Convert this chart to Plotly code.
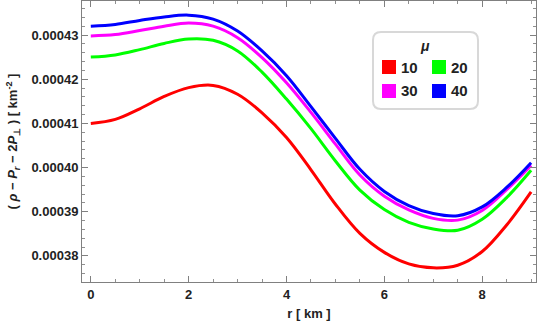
import plotly.graph_objects as go

r = [0, 0.5, 1.0, 1.5, 2.0, 2.5, 3.0, 3.5, 4.0, 4.5, 5.0, 5.5, 6.0, 6.5, 7.0, 7.5, 8.0, 8.5, 9.0]

mu_labels = ["10", "20", "30", "40"]
colors = ["#ff0000", "#00ff00", "#ff00ff", "#0000ff"]

# values in units of 1e-7 km^-2
mu10 = [4100, 4109, 4133, 4161, 4181, 4186, 4166, 4124, 4068, 3995,
        3917, 3851, 3808, 3782, 3773, 3779, 3810, 3870, 3945]
mu20 = [4250, 4255, 4267, 4281, 4291, 4288, 4264, 4216, 4155, 4088,
        4015, 3949, 3905, 3876, 3861, 3858, 3883, 3932, 3994]
mu30 = [4298, 4301, 4310, 4320, 4327, 4320, 4294, 4249, 4192, 4125,
        4053, 3983, 3935, 3904, 3885, 3881, 3903, 3950, 4005]
mu40 = [4320, 4324, 4333, 4341, 4345, 4336, 4309, 4264, 4208, 4138,
        4066, 3996, 3946, 3914, 3896, 3891, 3911, 3955, 4011]
series = [mu10, mu20, mu30, mu40]

FONT = "Liberation Sans, Arial, sans-serif"
TXT = "#222222"

# plot area in pixels: left 82, right 536, top 1, bottom 282
L, R, T, B = 82, 536, 1, 282
def px(x):
    return (x - L) / (R - L)
def py(y):
    return (B - y) / (B - T)

fig = go.Figure()

for ys, c, lab in zip(series, colors, mu_labels):
    fig.add_trace(go.Scatter(x=r, y=[v * 1e-7 for v in ys], mode="lines", name=lab,
                             line=dict(color=c, width=3, shape="spline", smoothing=1.0),
                             showlegend=False))

axis_common = dict(showgrid=False, zeroline=False, showline=True, linecolor="#808080", linewidth=1,
                   mirror="ticks", ticks="inside", ticklen=6, tickcolor="#808080",
                   tickfont=dict(family=FONT, size=13, color=TXT, weight="bold"),
                   minor=dict(ticks="inside", ticklen=3, tickcolor="#909090", showgrid=False))

fig.update_xaxes(range=[-0.18, 9.1], dtick=2, tick0=0, **axis_common)
fig.update_xaxes(minor_dtick=0.5,
                 title=dict(text="<b>r [ km ]</b>", font=dict(family=FONT, size=13, color=TXT), standoff=8))
fig.update_yaxes(range=[0.0003741, 0.0004377], dtick=0.00001, tick0=0.00038, tickformat=".5f", **axis_common)
fig.update_yaxes(minor_dtick=0.000002,
                 title=dict(text="<b>( <i>ρ</i> − <i>P<sub>r</sub></i> − 2<i>P</i><sub>⊥</sub> ) [ km<sup>-2</sup> ]</b>",
                            font=dict(family=FONT, size=13, color=TXT), standoff=10))

fig.update_layout(
    width=540, height=329,
    margin=dict(l=L, r=540 - R, t=T, b=329 - B),
    plot_bgcolor="white", paper_bgcolor="white",
    showlegend=False,
)

# legend box with rounded corners
x0, x1 = px(373), px(478)
y0, y1 = py(109), py(32)
rx, ry = 8 / (R - L), 8 / (B - T)
path = (f"M {x0+rx} {y1} L {x1-rx} {y1} Q {x1} {y1} {x1} {y1-ry} L {x1} {y0+ry} Q {x1} {y0} {x1-rx} {y0} "
        f"L {x0+rx} {y0} Q {x0} {y0} {x0} {y0+ry} L {x0} {y1-ry} Q {x0} {y1} {x0+rx} {y1} Z")
fig.add_shape(type="path", path=path, xref="paper", yref="paper",
              line=dict(color="#d8d8d8", width=2), fillcolor="white")

fig.add_annotation(x=px(425), y=py(46), xref="paper", yref="paper", text="<b><i>μ</i></b>",
                   showarrow=False, xanchor="center", yanchor="middle",
                   font=dict(family=FONT, size=14, color=TXT))

# legend entries: 2 columns x 2 rows
sw_x = [382, 432, 382, 432]
sw_y = [67, 67, 91, 91]
for lab, c, sx, sy in zip(mu_labels, colors, sw_x, sw_y):
    fig.add_shape(type="rect", xref="paper", yref="paper",
                  x0=px(sx), x1=px(sx + 14), y0=py(sy + 7), y1=py(sy - 7),
                  line=dict(width=0), fillcolor=c)
    fig.add_annotation(x=px(sx + 17), y=py(sy), xref="paper", yref="paper", text=f"<b>{lab}</b>",
                       showarrow=False, xanchor="left", yanchor="middle",
                       font=dict(family=FONT, size=15, color=TXT))

fig.write_html("out.html", config={"displayModeBar": False},
               post_script="document.body.style.margin='0px';")
